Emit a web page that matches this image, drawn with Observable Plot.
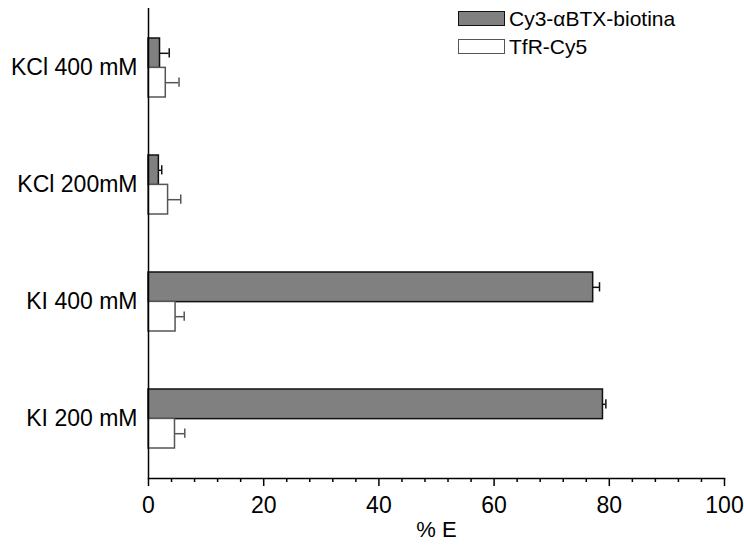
<!DOCTYPE html>
<html>
<head>
<meta charset="utf-8">
<script src="https://cdn.jsdelivr.net/npm/d3@7"></script>
<script src="https://cdn.jsdelivr.net/npm/@observablehq/plot@0.6"></script>
<style>
  body { margin: 0; background: #fff; }
  #wrap { position: relative; width: 744px; height: 549px; font-family: "Liberation Sans", Arial, sans-serif; }
  .legend { position: absolute; left: 458px; top: 11px; font-size: 21px; color: #000; }
  .legend .row { display: flex; align-items: center; height: 15px; margin-bottom: 13px; }
  .legend .sw { width: 45px; height: 13px; margin-right: 4px; box-sizing: content-box; flex: none; }
</style>
</head>
<body>
<div id="wrap"></div>
<script>
const categories = ["KCl 400 mM", "KCl 200mM", "KI 400 mM", "KI 200 mM"];
const seriesNames = ["Cy3-\u03b1BTX-biotina", "TfR-Cy5"];
const cy3Values = [2.0, 1.8, 77.2, 78.9];
const cy3Errors = [1.6, 0.5, 1.1, 0.5];
const tfrValues = [3.0, 3.4, 4.7, 4.6];
const tfrErrors = [2.3, 2.2, 1.5, 1.7];
const majorTicks = [0, 20, 40, 60, 80, 100];
const minorTicks = d3.range(0, 101, 4).filter(v => v % 20 !== 0);

const cy3 = categories.map((c, i) => ({cat: c, v: cy3Values[i], e: cy3Errors[i]}));
const tfr = categories.map((c, i) => ({cat: c, v: tfrValues[i], e: tfrErrors[i]}));

const half = 29.375;     // half of band
const off = half / 2;    // bar centre offset
const cap = 4.5;

const chart = Plot.plot({
  width: 744,
  height: 549,
  marginLeft: 148,
  marginRight: 20,
  marginTop: 8,
  marginBottom: 71,
  style: {fontFamily: "Liberation Sans, Arial, sans-serif", fontSize: "23px", color: "#000", background: "#fff"},
  x: {domain: [0, 100]},
  y: {domain: categories, paddingInner: 0.5, paddingOuter: 0.25},
  marks: [
    Plot.barX(cy3, {x: "v", y: "cat", insetBottom: half, fill: "#808080", stroke: "#111", strokeWidth: 1.5}),
    Plot.barX(tfr, {x: "v", y: "cat", insetTop: half, fill: "#fff", stroke: "#555", strokeWidth: 1.5}),
    Plot.ruleY(cy3, {y: "cat", x1: "v", x2: d => d.v + d.e, dy: -off, stroke: "#111", strokeWidth: 1.5}),
    Plot.tickX(cy3, {y: "cat", x: d => d.v + d.e, insetTop: off - cap, insetBottom: 2 * half - off - cap, stroke: "#111", strokeWidth: 1.5}),
    Plot.ruleY(tfr, {y: "cat", x1: "v", x2: d => d.v + d.e, dy: off, stroke: "#555", strokeWidth: 1.5}),
    Plot.tickX(tfr, {y: "cat", x: d => d.v + d.e, insetTop: half + off - cap, insetBottom: off - cap, stroke: "#555", strokeWidth: 1.5}),
    Plot.ruleX([0], {stroke: "#000", strokeWidth: 1.5}),
    Plot.frame({anchor: "bottom", stroke: "#000", strokeWidth: 1.5}),
    Plot.axisX({ticks: majorTicks, tickSize: 8, tickPadding: 10, tickFormat: d => String(d), fontSize: 23, label: null, stroke: "#000", strokeWidth: 1.5}),
    Plot.axisX({ticks: minorTicks, tickSize: 4, tickFormat: () => "", label: null, stroke: "#000", strokeWidth: 1.5}),
    Plot.axisY({tickSize: 0, tickPadding: 11, fontSize: 23, label: null}),
    Plot.text(["% E"], {frameAnchor: "bottom", dy: 58, fontSize: 22, fill: "#000"})
  ]
});
const wrap = document.getElementById("wrap");
wrap.appendChild(chart);

const legend = document.createElement("div");
legend.className = "legend";
const legendStyles = [
  {fill: "#808080", stroke: "#111"},
  {fill: "#fff", stroke: "#555"}
];
seriesNames.forEach((name, i) => {
  const row = document.createElement("div");
  row.className = "row";
  const sw = document.createElement("span");
  sw.className = "sw";
  sw.style.background = legendStyles[i].fill;
  sw.style.border = "1px solid " + legendStyles[i].stroke;
  const label = document.createElement("span");
  label.textContent = name;
  row.appendChild(sw);
  row.appendChild(label);
  legend.appendChild(row);
});
wrap.appendChild(legend);
</script>
</body>
</html>
